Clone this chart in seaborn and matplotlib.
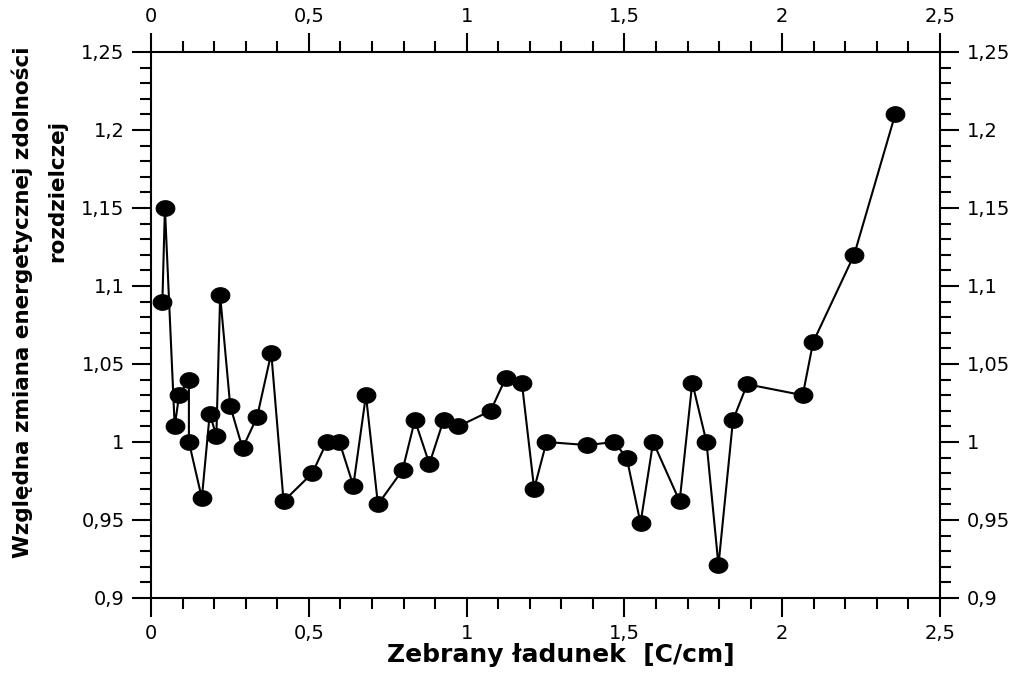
import matplotlib
matplotlib.use("Agg")
from matplotlib import pyplot as plt
from matplotlib.path import Path
from matplotlib.ticker import MultipleLocator, FuncFormatter
import numpy as np
import pandas as pd
import seaborn as sns

ladunek = [0.036, 0.044, 0.075, 0.089, 0.120, 0.120, 0.161, 0.186, 0.207,
           0.219, 0.251, 0.290, 0.336, 0.381, 0.420, 0.511, 0.557, 0.597,
           0.641, 0.681, 0.719, 0.797, 0.836, 0.882, 0.927, 0.974, 1.076,
           1.124, 1.175, 1.214, 1.253, 1.383, 1.467, 1.507, 1.551, 1.591,
           1.675, 1.715, 1.760, 1.798, 1.844, 1.889, 2.065, 2.098, 2.228,
           2.358]
zmiana = [1.090, 1.150, 1.010, 1.030, 1.040, 1.000, 0.964, 1.018, 1.004,
          1.094, 1.023, 0.996, 1.016, 1.057, 0.962, 0.980, 1.000, 1.000,
          0.972, 1.030, 0.960, 0.982, 1.014, 0.986, 1.014, 1.010, 1.020,
          1.041, 1.038, 0.970, 1.000, 0.998, 1.000, 0.990, 0.948, 1.000,
          0.962, 1.038, 1.000, 0.921, 1.014, 1.037, 1.030, 1.064, 1.120,
          1.210]

df = pd.DataFrame({"q": ladunek, "r": zmiana})

# eliptyczny znacznik
t = np.linspace(0, 2 * np.pi, 60)
ellipse = Path(np.column_stack([1.2 * np.cos(t), np.sin(t)]), closed=True)

sns.set_style("ticks")
plt.rcParams["font.family"] = ["DejaVu Sans"]
plt.rcParams["text.color"] = "black"
plt.rcParams["axes.labelcolor"] = "black"

fig = plt.figure(figsize=(10.17, 6.75), dpi=100)
ax = fig.add_axes([0.1485, 0.1141, 0.7758, 0.8089])

sns.lineplot(data=df, x="q", y="r", ax=ax, sort=False, estimator=None,
             color="black", linewidth=1.5, marker=ellipse, markersize=13.5,
             markeredgecolor="black", markerfacecolor="black")

ax.set_xlim(0, 2.5)
ax.set_ylim(0.9, 1.25)
ax.xaxis.set_major_locator(MultipleLocator(0.5))
ax.xaxis.set_minor_locator(MultipleLocator(0.1))
ax.yaxis.set_major_locator(MultipleLocator(0.05))
ax.yaxis.set_minor_locator(MultipleLocator(0.01))

fmt = FuncFormatter(lambda v, p: f"{v:.2f}".rstrip("0").rstrip(".").replace(".", ","))
ax.xaxis.set_major_formatter(fmt)
ax.yaxis.set_major_formatter(fmt)

ax.tick_params(which="both", direction="out", top=True, right=True,
               labeltop=True, labelright=True, colors="black", width=1.5,
               labelsize=14)
ax.tick_params(which="major", length=14, pad=5)
ax.tick_params(which="minor", length=8)

for s in ax.spines.values():
    s.set_visible(True)
    s.set_linewidth(1.5)
    s.set_color("black")

ax.set_xlabel("Zebrany ładunek  [C/cm]", fontsize=18, fontweight="bold",
              labelpad=0)
ax.xaxis.label.set_x(0.52)
ax.set_ylabel("")

# dwie linie opisu osi Y ustawione osobno, jak w oryginale
fig.text(0.0216, 0.5526, "Względna zmiana energetycznej zdolności",
         rotation=90, ha="center", va="center", fontsize=15.5,
         fontweight="bold")
fig.text(0.056, 0.717, "rozdzielczej", rotation=90, ha="center",
         va="center", fontsize=15.5, fontweight="bold")

fig.savefig("out.png", dpi=100)
